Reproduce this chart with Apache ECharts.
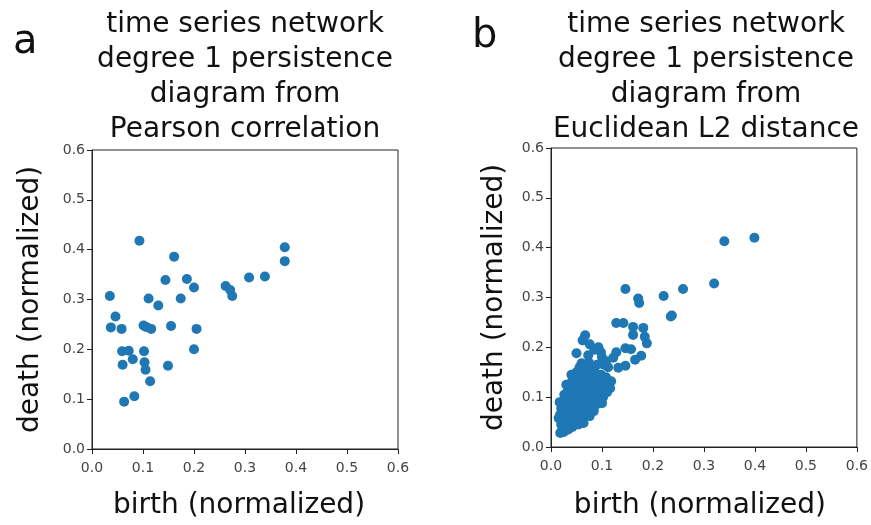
<!DOCTYPE html>
<html lang="en">
<head>
    <meta charset="UTF-8">
    <title>persistence diagrams</title>
    <script type="text/javascript" src="https://cdn.jsdelivr.net/npm/echarts@6/dist/echarts.min.js"></script>
</head>
<body style="margin:0">
<div id="main" style="width: 871px;height:525px"></div>

<script type="text/javascript">
    // axis ticks shared by both panels
    var tickValues = [0.0, 0.1, 0.2, 0.3, 0.4, 0.5, 0.6];

    // panel a: Pearson correlation, [birth, death]
    var pearsonPoints = [
        [0.093, 0.418], [0.161, 0.386], [0.378, 0.405], [0.378, 0.377],
        [0.308, 0.344], [0.339, 0.346], [0.262, 0.327], [0.271, 0.319],
        [0.275, 0.307], [0.144, 0.339], [0.186, 0.341], [0.200, 0.324],
        [0.035, 0.307], [0.111, 0.302], [0.174, 0.302], [0.130, 0.288],
        [0.046, 0.266], [0.037, 0.244], [0.058, 0.241], [0.101, 0.248],
        [0.106, 0.245], [0.116, 0.241], [0.155, 0.247], [0.205, 0.241],
        [0.059, 0.196], [0.072, 0.197], [0.080, 0.180], [0.102, 0.196],
        [0.200, 0.200], [0.060, 0.169], [0.103, 0.174], [0.105, 0.159],
        [0.149, 0.167], [0.114, 0.136], [0.063, 0.095], [0.083, 0.106]
    ];

    // panel b: Euclidean L2 distance, [birth, death]
    var euclidPoints = [
        [0.399, 0.420], [0.340, 0.413], [0.320, 0.328], [0.259, 0.317],
        [0.221, 0.303], [0.237, 0.264], [0.146, 0.317], [0.171, 0.298],
        [0.173, 0.289], [0.235, 0.262],
        [0.128, 0.249], [0.142, 0.249], [0.161, 0.241], [0.181, 0.239],
        [0.161, 0.225], [0.184, 0.221], [0.188, 0.208], [0.146, 0.198],
        [0.157, 0.196], [0.128, 0.190], [0.122, 0.179], [0.177, 0.183],
        [0.165, 0.175], [0.146, 0.163], [0.132, 0.159],
        [0.067, 0.224], [0.062, 0.214], [0.076, 0.206], [0.093, 0.200],
        [0.050, 0.188], [0.073, 0.184], [0.085, 0.195], [0.098, 0.190],
        [0.100, 0.180], [0.108, 0.172], [0.112, 0.160], [0.104, 0.165],
        [0.018, 0.028], [0.022, 0.035], [0.025, 0.030], [0.020, 0.045],
        [0.015, 0.058], [0.018, 0.065], [0.024, 0.052], [0.028, 0.042],
        [0.030, 0.055], [0.026, 0.070], [0.020, 0.078], [0.017, 0.090],
        [0.024, 0.088], [0.030, 0.075], [0.033, 0.062], [0.035, 0.048],
        [0.038, 0.058], [0.040, 0.070], [0.036, 0.082], [0.030, 0.095],
        [0.026, 0.105], [0.032, 0.110], [0.038, 0.100], [0.042, 0.088],
        [0.045, 0.075], [0.045, 0.060], [0.048, 0.050], [0.050, 0.068],
        [0.052, 0.082], [0.048, 0.095], [0.044, 0.108], [0.036, 0.120],
        [0.030, 0.125], [0.040, 0.130], [0.046, 0.122], [0.052, 0.112],
        [0.056, 0.098], [0.058, 0.085], [0.060, 0.070], [0.056, 0.058],
        [0.062, 0.062], [0.065, 0.078], [0.066, 0.092], [0.062, 0.105],
        [0.058, 0.118], [0.052, 0.130], [0.046, 0.140], [0.040, 0.145],
        [0.050, 0.150], [0.056, 0.142], [0.062, 0.132], [0.068, 0.120],
        [0.072, 0.108], [0.070, 0.095], [0.074, 0.082], [0.070, 0.070],
        [0.078, 0.075], [0.080, 0.090], [0.080, 0.102], [0.076, 0.115],
        [0.074, 0.128], [0.068, 0.140], [0.062, 0.150], [0.056, 0.160],
        [0.060, 0.168], [0.066, 0.158], [0.072, 0.150], [0.080, 0.140],
        [0.084, 0.128], [0.088, 0.115], [0.086, 0.100], [0.088, 0.085],
        [0.094, 0.092], [0.096, 0.105], [0.094, 0.120], [0.092, 0.135],
        [0.086, 0.150], [0.080, 0.160], [0.074, 0.170], [0.090, 0.165],
        [0.098, 0.145], [0.102, 0.130], [0.104, 0.115], [0.102, 0.100],
        [0.110, 0.110], [0.112, 0.125], [0.108, 0.140], [0.116, 0.118],
        [0.118, 0.132], [0.064, 0.048], [0.042, 0.040], [0.034, 0.035],
        [0.054, 0.045], [0.076, 0.062], [0.084, 0.072], [0.100, 0.088]
    ];

    var titleA = 'time series network\ndegree 1 persistence\ndiagram from\nPearson correlation';
    var titleB = 'time series network\ndegree 1 persistence\ndiagram from\nEuclidean L2 distance';

    var font = 'DejaVu Sans';
    var dotColor = '#1f77b4';

    function makeAxis(idx, name, gap, labelMargin, shift) {
        return {
            gridIndex: idx,
            type: 'value',
            min: tickValues[0],
            max: tickValues[tickValues.length - 1],
            interval: 0.1,
            name: name,
            nameLocation: 'middle',
            nameGap: gap,
            nameTextStyle: {fontFamily: font, fontSize: 28, color: '#111', padding: shift || 0},
            axisLine: {show: true, lineStyle: {color: '#222', width: 1}},
            axisTick: {show: true, inside: false, length: 5, lineStyle: {color: '#222'}},
            axisLabel: {
                fontFamily: font, fontSize: 14, color: '#444', margin: labelMargin,
                formatter: function (v) { return v.toFixed(1); }
            },
            splitLine: {show: false}
        };
    }

    var chartDom = document.getElementById('main');
    var myChart = echarts.init(chartDom);
    var option;

    option = {
        animation: false,
        title: [
            {text: titleA, left: 240, top: 2, textAlign: 'center',
             textStyle: {fontFamily: font, fontSize: 28, fontWeight: 'normal', color: '#111', lineHeight: 35}},
            {text: titleB, left: 701, top: 2, textAlign: 'center',
             textStyle: {fontFamily: font, fontSize: 28, fontWeight: 'normal', color: '#111', lineHeight: 35}},
            {text: 'a', left: 8, top: 18,
             textStyle: {fontFamily: font, fontSize: 40, fontWeight: 'normal', color: '#111'}},
            {text: 'b', left: 467, top: 12,
             textStyle: {fontFamily: font, fontSize: 40, fontWeight: 'normal', color: '#111'}}
        ],
        grid: [
            {left: 92, top: 150, width: 306, height: 308, show: true, borderColor: '#222', borderWidth: 1},
            {left: 551, top: 148, width: 310, height: 309, show: true, borderColor: '#222', borderWidth: 1}
        ],
        xAxis: [
            makeAxis(0, 'birth (normalized)', 43, 12, [0, 12, 0, 0]),
            makeAxis(1, 'birth (normalized)', 45, 12, [0, 8, 0, 0])
        ],
        yAxis: [
            makeAxis(0, 'death (normalized)', 47, 7),
            makeAxis(1, 'death (normalized)', 42, 7)
        ],
        series: [
            {type: 'scatter', xAxisIndex: 0, yAxisIndex: 0, data: pearsonPoints,
             symbolSize: 10, itemStyle: {color: dotColor, opacity: 1}},
            {type: 'scatter', xAxisIndex: 1, yAxisIndex: 1, data: euclidPoints,
             symbolSize: 10, itemStyle: {color: dotColor, opacity: 1}}
        ]
    };

    option && myChart.setOption(option);
</script>
</body>
</html>
